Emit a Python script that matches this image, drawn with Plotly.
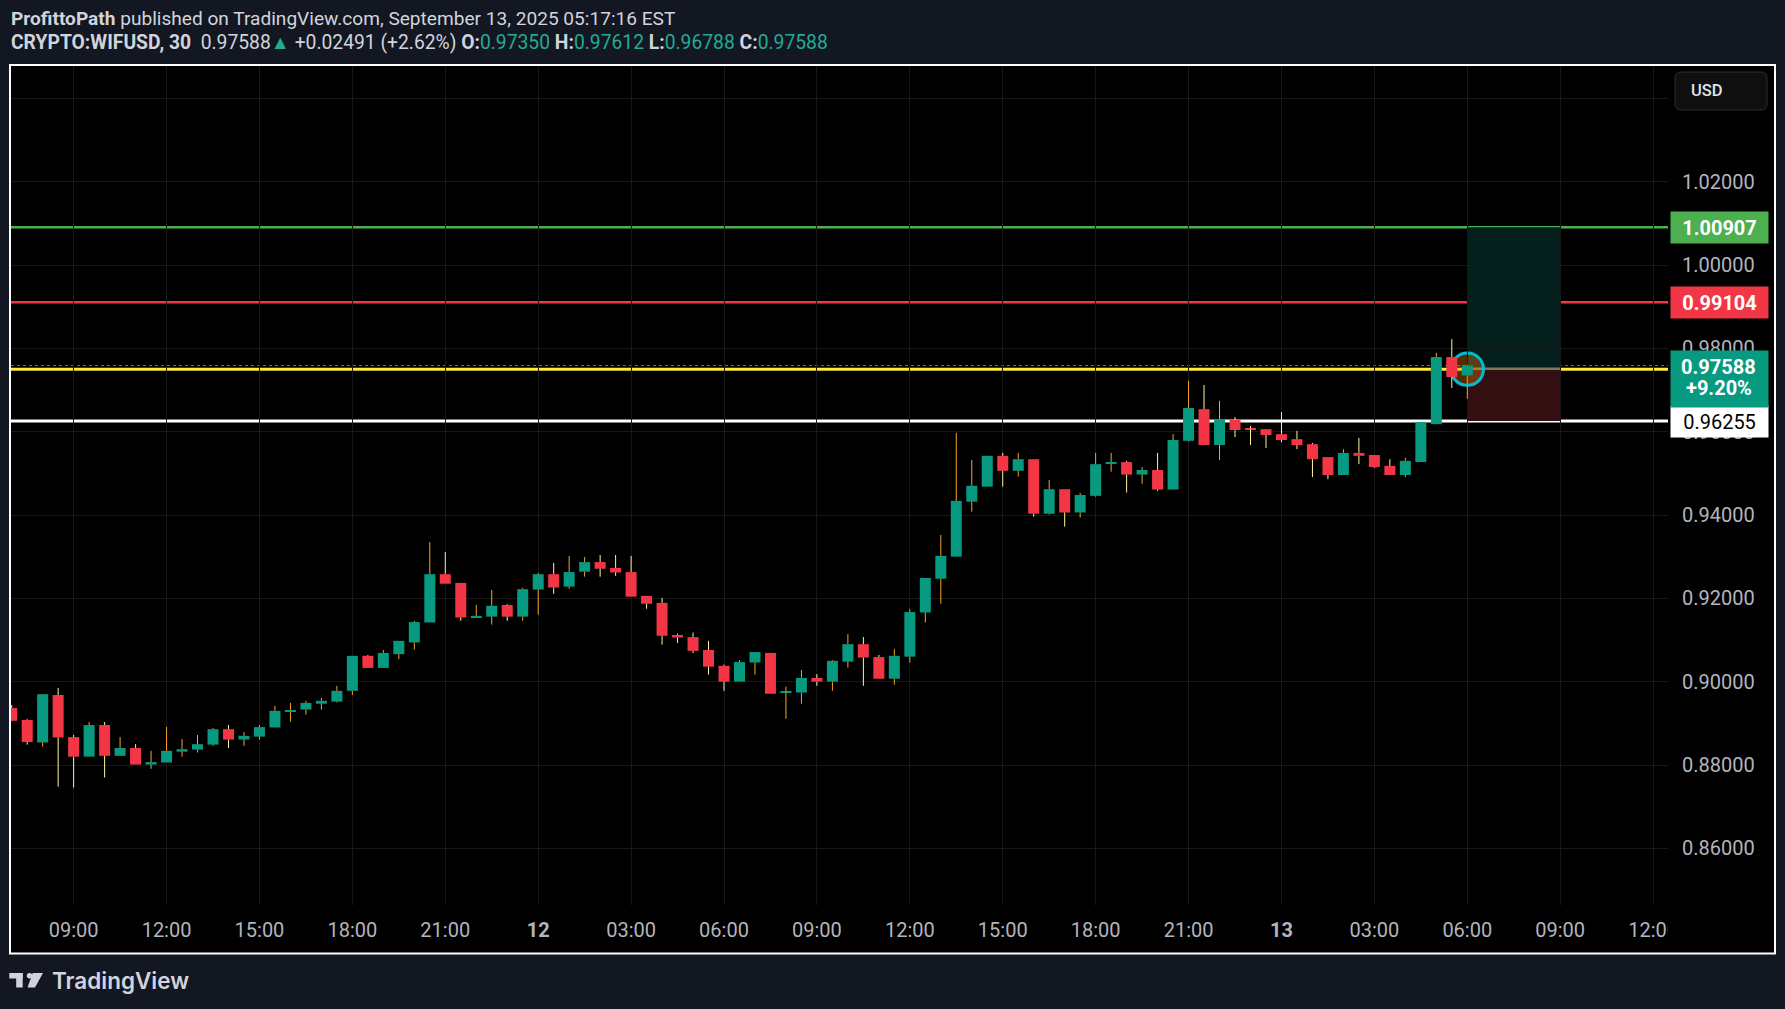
import numpy as np
import pandas as pd
import plotly.graph_objects as go

# ---------------- data ----------------
start_time = "2025-09-11 07:00"
opens = [0.8937, 0.8908, 0.8854, 0.8968, 0.8867, 0.8820, 0.8896, 0.8822, 0.8841, 0.8801,
         0.8806, 0.8832, 0.8837, 0.8849, 0.8886, 0.8861, 0.8868, 0.8890, 0.8928, 0.8933,
         0.8947, 0.8952, 0.8978, 0.9062, 0.9033, 0.9066, 0.9094, 0.9142, 0.9258, 0.9237,
         0.9154, 0.9156, 0.9184, 0.9156, 0.9221, 0.9258, 0.9228, 0.9264, 0.9287, 0.9273,
         0.9263, 0.9206, 0.9189, 0.9112, 0.9107, 0.9076, 0.9038, 0.9000, 0.9046, 0.9069,
         0.8974, 0.8974, 0.9009, 0.9000, 0.9048, 0.9090, 0.9059, 0.9007, 0.9060, 0.9166,
         0.9247, 0.9300, 0.9432, 0.9468, 0.9542, 0.9506, 0.9534, 0.9403, 0.9462, 0.9406,
         0.9446, 0.9523, 0.9527, 0.9497, 0.9508, 0.9461, 0.9578, 0.9654, 0.9568, 0.9628,
         0.9607, 0.9606, 0.9594, 0.9582, 0.9570, 0.9539, 0.9496, 0.9549, 0.9544, 0.9518,
         0.9496, 0.9527, 0.9618, 0.9779, 0.97350]
highs = [0.8944, 0.8910, 0.8970, 0.8985, 0.8872, 0.8903, 0.8903, 0.8867, 0.8850, 0.8834,
         0.8891, 0.8862, 0.8872, 0.8889, 0.8896, 0.8879, 0.8896, 0.8942, 0.8949, 0.8954,
         0.8961, 0.8990, 0.9062, 0.9064, 0.9076, 0.9098, 0.9146, 0.9335, 0.9311, 0.9237,
         0.9184, 0.9220, 0.9186, 0.9225, 0.9261, 0.9285, 0.9302, 0.9299, 0.9304, 0.9304,
         0.9302, 0.9206, 0.9201, 0.9115, 0.9118, 0.9098, 0.9041, 0.9052, 0.9071, 0.9069,
         0.8988, 0.9028, 0.9018, 0.9052, 0.9114, 0.9107, 0.9064, 0.9078, 0.9174, 0.9249,
         0.9352, 0.9597, 0.9532, 0.9542, 0.9549, 0.9549, 0.9534, 0.9484, 0.9462, 0.9453,
         0.9549, 0.9549, 0.9530, 0.9515, 0.9549, 0.9594, 0.9722, 0.9712, 0.9674, 0.9635,
         0.9614, 0.9606, 0.9647, 0.9602, 0.9573, 0.9539, 0.9558, 0.9585, 0.9544, 0.9534,
         0.9537, 0.9623, 0.9789, 0.9822, 0.97612]
lows = [0.8905, 0.8849, 0.8844, 0.8748, 0.8746, 0.8820, 0.8770, 0.8822, 0.8801, 0.8791,
        0.8806, 0.8820, 0.8830, 0.8846, 0.8841, 0.8846, 0.8861, 0.8890, 0.8904, 0.8921,
        0.8933, 0.8950, 0.8968, 0.9033, 0.9033, 0.9054, 0.9077, 0.9142, 0.9235, 0.9146,
        0.9154, 0.9137, 0.9146, 0.9146, 0.9161, 0.9211, 0.9223, 0.9252, 0.9252, 0.9254,
        0.9204, 0.9175, 0.9089, 0.9093, 0.9069, 0.9017, 0.8978, 0.9000, 0.9017, 0.8971,
        0.8911, 0.8947, 0.8990, 0.8978, 0.9034, 0.8990, 0.9007, 0.8993, 0.9046, 0.9142,
        0.9187, 0.9300, 0.9408, 0.9468, 0.9468, 0.9492, 0.9396, 0.9401, 0.9372, 0.9394,
        0.9444, 0.9504, 0.9454, 0.9475, 0.9458, 0.9461, 0.9576, 0.9568, 0.9532, 0.9587,
        0.9568, 0.9561, 0.9575, 0.9558, 0.9491, 0.9486, 0.9496, 0.9522, 0.9513, 0.9496,
        0.9491, 0.9527, 0.9618, 0.9705, 0.96788]
closes = [0.8906, 0.8855, 0.8970, 0.8866, 0.8820, 0.8896, 0.8822, 0.8841, 0.8801, 0.8807,
          0.8834, 0.8838, 0.8850, 0.8886, 0.8861, 0.8870, 0.8891, 0.8930, 0.8932, 0.8949,
          0.8954, 0.8978, 0.9062, 0.9033, 0.9069, 0.9098, 0.9143, 0.9258, 0.9235, 0.9154,
          0.9158, 0.9182, 0.9156, 0.9222, 0.9258, 0.9226, 0.9263, 0.9287, 0.9271, 0.9262,
          0.9204, 0.9187, 0.9110, 0.9106, 0.9074, 0.9036, 0.9000, 0.9047, 0.9071, 0.8971,
          0.8976, 0.9009, 0.9000, 0.9050, 0.9090, 0.9058, 0.9007, 0.9062, 0.9167, 0.9249,
          0.9302, 0.9434, 0.9470, 0.9542, 0.9506, 0.9534, 0.9403, 0.9462, 0.9406, 0.9448,
          0.9522, 0.9527, 0.9497, 0.9508, 0.9461, 0.9580, 0.9657, 0.9568, 0.9630, 0.9604,
          0.9605, 0.9592, 0.9580, 0.9568, 0.9534, 0.9496, 0.9549, 0.9542, 0.9515, 0.9496,
          0.9530, 0.9623, 0.9779, 0.9731, 0.97588]

tick_times = ["2025-09-11 09:00", "2025-09-11 12:00", "2025-09-11 15:00", "2025-09-11 18:00",
              "2025-09-11 21:00", "2025-09-12 00:00", "2025-09-12 03:00", "2025-09-12 06:00",
              "2025-09-12 09:00", "2025-09-12 12:00", "2025-09-12 15:00", "2025-09-12 18:00",
              "2025-09-12 21:00", "2025-09-13 00:00", "2025-09-13 03:00", "2025-09-13 06:00",
              "2025-09-13 09:00", "2025-09-13 12:00"]
tick_labels = ["09:00", "12:00", "15:00", "18:00", "21:00", "<b>12</b>", "03:00", "06:00",
               "09:00", "12:00", "15:00", "18:00", "21:00", "<b>13</b>", "03:00", "06:00",
               "09:00", "12:00"]

target_level = 1.00907
red_level = 0.99104
yellow_level = 0.97500
entry_level = 0.97510
stop_level = 0.96255
last_price = 0.97588
pct_text = "+9.20%"
position_start = "2025-09-13 06:00"
position_end = "2025-09-13 09:00"

# ---------------- layout geometry ----------------
W, H = 1785, 1009
PL, PR, PT, PB = 11, 1668, 66, 905
BAR_PX = 15.485          # pixels per 30-minute bar
FIRST_PX = 11.7          # pixel centre of first bar
PRICE_PX = 4166.7        # pixels per 1.0 price
REF_P, REF_PY = 0.94, 515.0

t0 = pd.Timestamp(start_time)
times = pd.date_range(start_time, periods=len(opens), freq="30min")


def t_at(px):
    return t0 + pd.Timedelta(minutes=30 * (px - FIRST_PX) / BAR_PX)


def p_at(py):
    return REF_P + (REF_PY - py) / PRICE_PX


def fx(px):
    return (px - PL) / (PR - PL)


def fy(py):
    return (PB - py) / (PB - PT)


o = np.array(opens)
h = np.array(highs)
l = np.array(lows)
c = np.array(closes)
up = c >= o
body_lo = np.minimum(o, c)
body_hi = np.maximum(o, c)
body_h = np.maximum(body_hi - body_lo, 0.00028)

UP_COL, DN_COL = "#089981", "#f23645"
UP_WICK, DN_WICK = "#f5a623", "#fff59d"

fig = go.Figure()


def wick_xy(mask):
    xs, ys = [], []
    for i in np.where(mask)[0]:
        if h[i] > body_hi[i]:
            xs += [times[i], times[i], None]
            ys += [body_hi[i], h[i], None]
        if l[i] < body_lo[i]:
            xs += [times[i], times[i], None]
            ys += [l[i], body_lo[i], None]
    return xs, ys


for mask, col in [(up, UP_WICK), (~up, DN_WICK)]:
    xs, ys = wick_xy(mask)
    fig.add_trace(go.Scatter(x=xs, y=ys, mode="lines", line=dict(color=col, width=1),
                             hoverinfo="skip", showlegend=False))

body_ms = 21.3 * 60 * 1000
fig.add_trace(go.Bar(x=times, y=body_h, base=body_lo, width=body_ms,
                     marker=dict(color=[UP_COL if u else DN_COL for u in up], line=dict(width=0)),
                     hoverinfo="skip", showlegend=False))

shapes = []
# chart frame
shapes.append(dict(type="rect", xref="paper", yref="paper", x0=fx(10), x1=fx(1775), y0=fy(65), y1=fy(953.5),
                   fillcolor="#000000", line=dict(color="#ffffff", width=2), layer="below"))
# yellow line (under position tool)
shapes.append(dict(type="line", xref="paper", yref="y", x0=0, x1=1, y0=yellow_level, y1=yellow_level,
                   line=dict(color="#ffeb3b", width=3), layer="below"))
# position tool zones
shapes.append(dict(type="rect", xref="x", yref="y", x0=position_start, x1=position_end, y0=entry_level,
                   y1=target_level, fillcolor="#05201c", line=dict(width=0), layer="below"))
shapes.append(dict(type="rect", xref="x", yref="y", x0=position_start, x1=position_end, y0=stop_level,
                   y1=entry_level, fillcolor="#330f12", line=dict(width=0), layer="below"))
shapes.append(dict(type="line", xref="x", yref="y", x0=position_start, x1=position_end, y0=entry_level,
                   y1=entry_level, line=dict(color="#7d7a5c", width=2.5), layer="below"))
# last price dotted line
shapes.append(dict(type="line", xref="paper", yref="y", x0=0, x1=1, y0=last_price, y1=last_price,
                   line=dict(color="#089981", width=1, dash="dot"), layer="below"))
# horizontal levels
for lvl, col, wd in [(target_level, "#4caf50", 2.5), (red_level, "#f23645", 2.5), (stop_level, "#ffffff", 3)]:
    shapes.append(dict(type="line", xref="paper", yref="y", x0=0, x1=1, y0=lvl, y1=lvl,
                       line=dict(color=col, width=wd), layer="below"))
# highlight circle around the last bar
cx = pd.Timestamp(position_start)
r_px = 16.2
dt = pd.Timedelta(minutes=30 * r_px / BAR_PX)
dp = r_px / PRICE_PX
shapes.append(dict(type="circle", xref="x", yref="y", x0=cx - dt, x1=cx + dt,
                   y0=yellow_level - dp, y1=yellow_level + dp,
                   fillcolor="rgba(255,140,0,0.32)", line=dict(color="#00bcd4", width=3), layer="below"))

# hide time label overflow past the pane edge
shapes.append(dict(type="rect", xref="paper", yref="paper", x0=fx(PR), x1=fx(1774), y0=fy(952), y1=fy(906),
                   fillcolor="#000000", line=dict(width=0), layer="above"))


def rounded_rect(x0, y0, x1, y1, r):
    pts = [
        f"M{fx(x0 + r)},{fy(y0)}", f"L{fx(x1 - r)},{fy(y0)}", f"Q{fx(x1)},{fy(y0)} {fx(x1)},{fy(y0 + r)}",
        f"L{fx(x1)},{fy(y1 - r)}", f"Q{fx(x1)},{fy(y1)} {fx(x1 - r)},{fy(y1)}",
        f"L{fx(x0 + r)},{fy(y1)}", f"Q{fx(x0)},{fy(y1)} {fx(x0)},{fy(y1 - r)}",
        f"L{fx(x0)},{fy(y0 + r)}", f"Q{fx(x0)},{fy(y0)} {fx(x0 + r)},{fy(y0)}", "Z"]
    return " ".join(pts)


# USD button
shapes.append(dict(type="path", xref="paper", yref="paper", path=rounded_rect(1675, 72, 1767, 110, 6),
                   fillcolor="#0f0f0f", line=dict(color="#2e2e2e", width=1), layer="above"))

# TradingView logo
LOGO = "#d1d4dc"
shapes.append(dict(type="rect", xref="paper", yref="paper", x0=fx(9.3), x1=fx(22.7), y0=fy(978.5), y1=fy(973),
                   fillcolor=LOGO, line=dict(width=0), layer="above"))
shapes.append(dict(type="rect", xref="paper", yref="paper", x0=fx(16.2), x1=fx(22.7), y0=fy(987.5), y1=fy(973),
                   fillcolor=LOGO, line=dict(width=0), layer="above"))
shapes.append(dict(type="circle", xref="paper", yref="paper", x0=fx(26.8), x1=fx(32.3), y0=fy(978.5), y1=fy(973),
                   fillcolor=LOGO, line=dict(width=0), layer="above"))
shapes.append(dict(type="path", xref="paper", yref="paper",
                   path=f"M{fx(32.7)},{fy(973)} L{fx(43)},{fy(973)} L{fx(35)},{fy(987.5)} L{fx(27.5)},{fy(987.5)} Z",
                   fillcolor=LOGO, line=dict(width=0), layer="above"))

FONT = "Roboto"
TXT = "#d1d4dc"
TEAL = "#22ab94"
ann = []
ann.append(dict(xref="paper", yref="paper", x=fx(9), y=fy(18), xanchor="left", yanchor="middle", showarrow=False,
                text="<b>ProfittoPath</b> published on TradingView.com, September 13, 2025 05:17:16 EST",
                font=dict(family=FONT, size=19.1, color=TXT)))
ann.append(dict(xref="paper", yref="paper", x=fx(9), y=fy(43), xanchor="left", yanchor="middle", showarrow=False,
                text=(f"<b>CRYPTO:WIFUSD, 30</b>  {closes[-1]:.5f}<span style='color:{TEAL}'>▲</span> +0.02491 (+2.62%) "
                      f"<b>O:</b><span style='color:{TEAL}'>{opens[-1]:.5f}</span> "
                      f"<b>H:</b><span style='color:{TEAL}'>{highs[-1]:.5f}</span> "
                      f"<b>L:</b><span style='color:{TEAL}'>{lows[-1]:.5f}</span> "
                      f"<b>C:</b><span style='color:{TEAL}'>{closes[-1]:.5f}</span>"),
                font=dict(family=FONT, size=19.3, color=TXT)))
ann.append(dict(xref="paper", yref="paper", x=fx(50), y=fy(980.5), xanchor="left", yanchor="middle", showarrow=False,
                text="TradingView", font=dict(family="Inter", size=22.5, color=LOGO, weight=600)))
ann.append(dict(xref="paper", yref="paper", x=fx(1689), y=fy(91), xanchor="left", yanchor="middle", showarrow=False,
                text="USD", font=dict(family=FONT, size=16.5, color="#e0e3eb", weight=500)))

# price scale labels
for lvl, bg, fg, bold in [(target_level, "#4caf50", "#ffffff", True), (red_level, "#f23645", "#ffffff", True),
                          (stop_level, "#ffffff", "#000000", False)]:
    ann.append(dict(xref="paper", yref="y", x=fx(1670), y=lvl, xanchor="left", yanchor="middle", showarrow=False,
                    text=f"<b>{lvl:.5f}</b>" if bold else f"{lvl:.5f}", bgcolor=bg, width=97, height=31,
                    borderpad=0, align="center", font=dict(family=FONT, size=20, color=fg)))
ann.append(dict(xref="paper", yref="y", x=fx(1670), y=last_price, yshift=-13.5, xanchor="left", yanchor="middle",
                showarrow=False, text=" ", bgcolor="#089981", width=97, height=56, borderpad=0))
ann.append(dict(xref="paper", yref="y", x=fx(1718.5), y=last_price, yshift=-1, xanchor="center", yanchor="middle",
                showarrow=False, text=f"<b>{last_price:.5f}</b>", font=dict(family=FONT, size=20, color="#ffffff")))
ann.append(dict(xref="paper", yref="y", x=fx(1718.5), y=last_price, yshift=-22, xanchor="center", yanchor="middle",
                showarrow=False, text=f"<b>{pct_text}</b>", font=dict(family=FONT, size=20, color="#ffffff")))

GRID = "#181818"
fig.update_layout(
    width=W, height=H, autosize=False,
    margin=dict(l=PL, r=W - PR, t=PT, b=H - PB, pad=0),
    paper_bgcolor="#131722", plot_bgcolor="#000000",
    showlegend=False, barmode="overlay", hovermode=False,
    shapes=shapes, annotations=ann,
    xaxis=dict(type="date", range=[t_at(PL), t_at(PR)], tickmode="array", tickvals=tick_times,
               ticktext=tick_labels, showgrid=True, gridcolor=GRID, gridwidth=1, zeroline=False,
               showline=False, ticks="", ticklabelstandoff=11,
               tickfont=dict(family=FONT, size=20, color="#b2b5be"), rangeslider=dict(visible=False)),
    yaxis=dict(side="right", range=[p_at(PB), p_at(PT)], tick0=0.86, dtick=0.02, tickformat=".5f",
               showgrid=True, gridcolor=GRID, gridwidth=1, zeroline=False, showline=False, ticks="",
               ticklabelstandoff=13, tickfont=dict(family=FONT, size=20, color="#b2b5be")),
)

fig.write_html("out.html", config={"displayModeBar": False},
               post_script="document.body.style.margin='0';document.body.style.overflow='hidden';")
